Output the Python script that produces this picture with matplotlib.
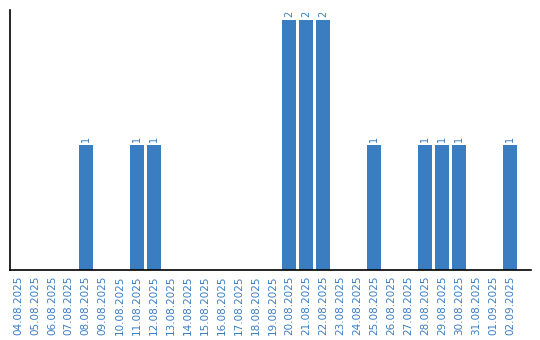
import matplotlib
matplotlib.use("Agg")
import matplotlib.pyplot as plt

# dates shown on the x axis
dates = ["04.08.2025", "05.08.2025", "06.08.2025", "07.08.2025", "08.08.2025",
         "09.08.2025", "10.08.2025", "11.08.2025", "12.08.2025", "13.08.2025",
         "14.08.2025", "15.08.2025", "16.08.2025", "17.08.2025", "18.08.2025",
         "19.08.2025", "20.08.2025", "21.08.2025", "22.08.2025", "23.08.2025",
         "24.08.2025", "25.08.2025", "26.08.2025", "27.08.2025", "28.08.2025",
         "29.08.2025", "30.08.2025", "31.08.2025", "01.09.2025", "02.09.2025"]
counts = [0, 0, 0, 0, 1,
          0, 0, 1, 1, 0,
          0, 0, 0, 0, 0,
          0, 2, 2, 2, 0,
          0, 1, 0, 0, 1,
          1, 1, 0, 0, 1]

blue = "#3b7dc1"

fig = plt.figure(figsize=(5.4, 3.4), dpi=100)
ax = fig.add_axes([10 / 540, 70 / 340, 521 / 540, 260 / 340])

x = list(range(len(dates)))
bars = ax.bar(x, counts, width=0.82, color=blue)

# value labels above the non-empty bars
for xi, c in zip(x, counts):
    if c > 0:
        ax.text(xi, c + 0.025, str(c), rotation=90, ha="center", va="bottom",
                fontsize=7, color=blue)

ax.set_xlim(-0.47, len(dates) - 1 + 1.24)
ax.set_ylim(0, 2.08)
ax.set_xticks(x)
ax.set_xticklabels(dates, rotation=90, fontsize=7.5, color=blue)
ax.tick_params(axis="x", length=0, pad=4)
ax.set_yticks([])
ax.spines["top"].set_visible(False)
ax.spines["right"].set_visible(False)
ax.spines["left"].set_linewidth(1.2)
ax.spines["bottom"].set_linewidth(1.2)

fig.savefig("out.png", dpi=100)
